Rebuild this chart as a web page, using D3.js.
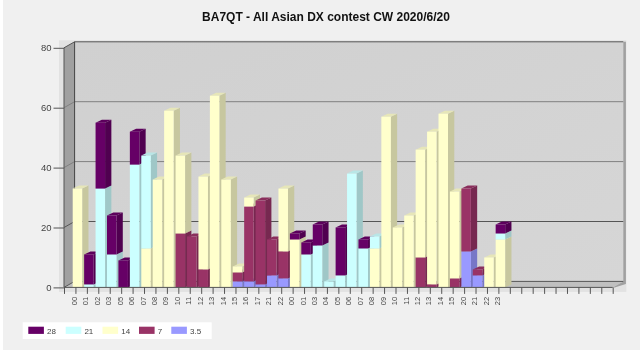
<!DOCTYPE html>
<html>
<head>
<meta charset="utf-8">
<script src="https://cdn.jsdelivr.net/npm/d3@7"></script>
<style>
html, body { margin: 0; padding: 0; background: #fff; }
svg { display: block; font-family: "Liberation Sans", Arial, sans-serif; filter: blur(0.35px); }
</style>
</head>
<body>
<svg id="chart" width="640" height="351"></svg>
<script>
// Hours on the x axis, the remaining slots stay empty
const hours = ['00','01','02','03','05','06','07','08','09','10','11','12','13','14','15','16','17','21','22',
               '00','01','03','04','05','06','07','08','09','10','11','12','13','14','15','20','21','22','23'];
const slotCount = 48;
const yTicks = [0, 20, 40, 60, 80];

// QSO per band, one value per hour
const band35 = [0,0,0,0,0,0,0,0,0,0,0,0,0,0,2,2,1,4,3, 0,0,0,0,0,0,0,0,0,0,0,0,0,0,0,12,4,0,0];
const band7  = [0,0,0,0,0,0,0,0,0,18,17,6,0,0,3,25,28,12,9, 0,0,0,0,0,0,0,0,0,0,0,10,1,0,3,21,2,0,0];
const band14 = [33,0,0,0,0,0,13,36,59,26,0,31,64,36,2,3,0,0,21, 16,0,0,0,0,0,0,13,57,20,24,36,51,58,29,0,0,10,16];
const band21 = [0,1,33,11,0,41,31,0,0,0,0,0,0,0,0,0,0,0,0, 0,11,14,2,4,38,13,4,0,0,0,0,0,0,0,0,0,0,2];
const band28 = [0,10,22,13,9,11,0,0,0,0,0,0,0,0,0,0,0,0,0, 2,4,7,0,16,0,3,0,0,0,0,0,0,0,0,0,0,0,3];

// Bands bottom to top in the stack
const stackKeys = ['3.5', '7', '14', '21', '28'];
const bandValues = { '3.5': band35, '7': band7, '14': band14, '21': band21, '28': band28 };
const bandColors = { '3.5': '#9999ff', '7': '#993366', '14': '#ffffcc', '21': '#ccffff', '28': '#660066' };
const legendOrder = ['28', '21', '14', '7', '3.5'];
const legendX = [28.3, 65.7, 102.5, 139, 171.3];

const svg = d3.select('#chart');

// Scales
const x = d3.scaleLinear().domain([0, slotCount]).range([64, 612.7]);
const y = d3.scaleLinear().domain([0, 80]).range([287.4, 47.8]);

// Depth of the 3D box and of the bars
const wallDx = 10.6, wallDy = 6;
const barDx = 6.3, barDy = 3;
const barInset = 8.7, barWidth = 9.5;

const x0 = x(0), x1 = x(slotCount), yBase = y(0), yTop = y(80);

// Page background
svg.append('rect').attr('x', 3).attr('y', 0).attr('width', 637).attr('height', 350).attr('fill', '#f0f0f0');

const poly = pts => pts.map(p => p.join(',')).join(' ');

// Soft shadow round the box
svg.append('rect').attr('x', x0 - 5).attr('y', yTop - wallDy - 1.5)
    .attr('width', x1 + wallDx - x0 + 8).attr('height', yBase - yTop + wallDy + 6).attr('fill', '#e2e2e2');

// Back wall, side walls and floor
const wallGrad = svg.append('defs').append('linearGradient').attr('id', 'wall').attr('x1', 0).attr('y1', 0).attr('x2', 1).attr('y2', 1);
wallGrad.append('stop').attr('offset', '0%').attr('stop-color', '#d0d0d0');
wallGrad.append('stop').attr('offset', '100%').attr('stop-color', '#d6d6d6');
svg.append('rect').attr('x', x0 + wallDx).attr('y', yTop - wallDy)
    .attr('width', x1 - x0).attr('height', yBase - yTop).attr('fill', 'url(#wall)');
svg.append('polygon').attr('fill', '#a0a0a0')
    .attr('points', poly([[x0, yTop], [x0 + wallDx, yTop - wallDy], [x0 + wallDx, yBase - wallDy], [x0, yBase]]));
svg.append('polygon').attr('fill', '#c0c0c0')
    .attr('points', poly([[x0, yBase], [x0 + wallDx, yBase - wallDy], [x1 + wallDx, yBase - wallDy], [x1, yBase]]));
svg.append('polygon').attr('fill', '#a0a0a0')
    .attr('points', poly([[x1 + wallDx, yTop - wallDy], [x1 + wallDx + 2.6, yTop - wallDy], [x1 + wallDx + 2.6, yBase - wallDy + 2.5], [x1 + 2, yBase], [x1, yBase], [x1 + wallDx, yBase - wallDy]]));

// Grid lines on the walls
yTicks.forEach(t => {
    const gy = y(t);
    const lineColor = t === 20 || t === 0 || t === 80 ? '#555' : '#808080';
    svg.append('polyline').attr('fill', 'none').attr('stroke', lineColor).attr('stroke-width', 1)
        .attr('points', poly([[x0, gy], [x0 + wallDx, gy - wallDy], [x1 + wallDx, gy - wallDy]]));
});
svg.append('line').attr('x1', x0 + wallDx).attr('x2', x0 + wallDx)
    .attr('y1', yTop - wallDy).attr('y2', yBase - wallDy).attr('stroke', '#444');

// Stacked bars, left to right so the next bar hides the side of the last one
const rows = hours.map((h, i) => {
    const row = { index: i };
    stackKeys.forEach(k => { row[k] = bandValues[k][i]; });
    return row;
});
const stacked = d3.stack().keys(stackKeys)(rows);

const shade = (c, f) => {
    const r = d3.rgb(c);
    return d3.rgb(r.r * f, r.g * f, r.b * f).formatHex();
};

rows.forEach((row, i) => {
    const g = svg.append('g').attr('class', 'bar');
    const left = x(i) + barInset, right = left + barWidth;
    stacked.forEach(serie => {
        const d = serie[i];
        if (d[1] === d[0]) return;
        const color = bandColors[serie.key];
        const yLow = y(d[0]), yHigh = y(d[1]);
        // side
        g.append('polygon').attr('fill', shade(color, 0.78))
            .attr('points', poly([[right, yHigh], [right + barDx, yHigh - barDy], [right + barDx, yLow - barDy], [right, yLow]]));
        // top
        g.append('polygon').attr('fill', shade(color, 0.9))
            .attr('points', poly([[left, yHigh], [left + barDx, yHigh - barDy], [right + barDx, yHigh - barDy], [right, yHigh]]));
        // front
        g.append('rect').attr('x', left).attr('y', yHigh)
            .attr('width', barWidth).attr('height', yLow - yHigh).attr('fill', color);
    });
});

// Y axis
const yAxis = svg.append('g')
    .attr('transform', `translate(${x0},0)`)
    .call(d3.axisLeft(y).tickValues(yTicks).tickSize(10.5).tickPadding(2));
yAxis.selectAll('line').attr('stroke', '#555');
yAxis.select('.domain').attr('stroke', '#555').attr('d', `M0,${yTop}V${yBase}`);
yAxis.selectAll('text').attr('fill', '#444').style('font-size', '9.5px').style('font-family', '"Liberation Sans", Arial, sans-serif');

// X axis, ticks sit on the slot edges
const xAxis = svg.append('g')
    .attr('transform', `translate(0,${yBase})`)
    .call(d3.axisBottom(x).tickValues(d3.range(slotCount + 1)).tickFormat(i => hours[i] || '').tickSize(6.5));
xAxis.selectAll('line').attr('stroke', '#555');
xAxis.select('.domain').attr('stroke', '#555').attr('d', `M${x0},0H${x1}`);
xAxis.selectAll('text')
    .attr('fill', '#444')
    .style('font-size', '7.5px')
    .style('font-family', '"Liberation Sans", Arial, sans-serif')
    .attr('text-anchor', 'end')
    .attr('dy', null)
    .attr('y', null)
    .attr('transform', 'translate(12.5,9.5) rotate(-90)');

// Title
svg.append('text')
    .attr('x', 326).attr('y', 20.5)
    .attr('text-anchor', 'middle')
    .attr('font-weight', 'bold').attr('font-size', 12)
    .attr('fill', '#111')
    .text('BA7QT - All Asian DX contest CW 2020/6/20');

// Legend
svg.append('rect').attr('x', 22.7).attr('y', 322.3).attr('width', 189).attr('height', 16.7).attr('fill', '#fff');
legendOrder.forEach((key, i) => {
    svg.append('rect').attr('x', legendX[i]).attr('y', 326.7)
        .attr('width', 15.6).attr('height', 7.2).attr('fill', bandColors[key]);
    svg.append('text').attr('x', legendX[i] + 18.7).attr('y', 333.5)
        .attr('font-size', 8).attr('fill', '#444').text(key);
});
</script>
</body>
</html>
